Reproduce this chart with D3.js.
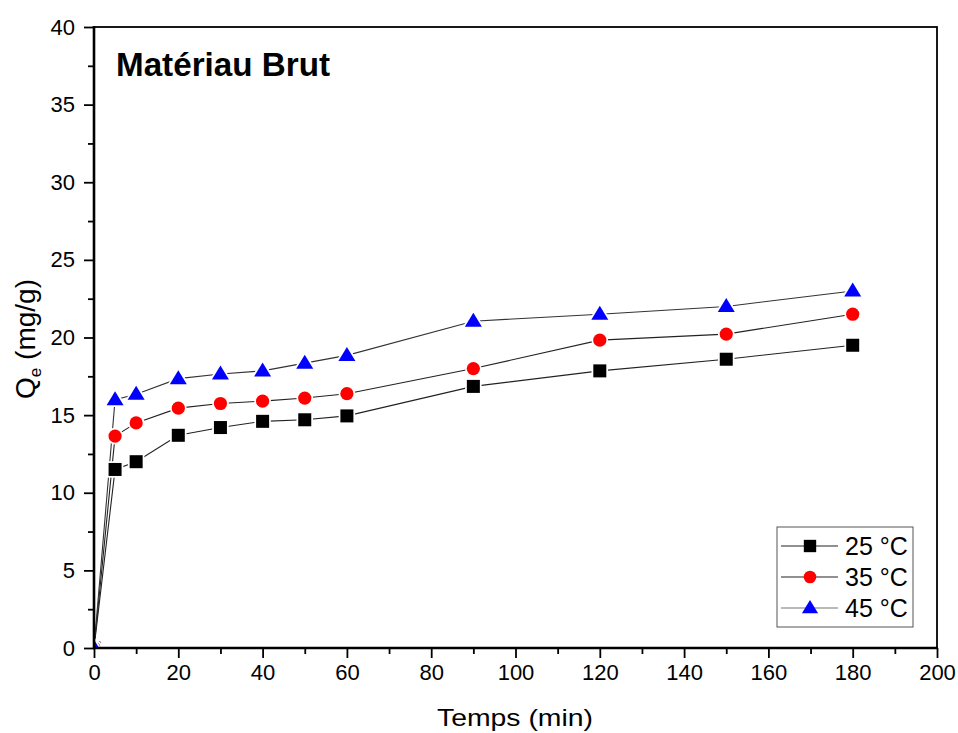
<!DOCTYPE html>
<html><head><meta charset="utf-8">
<script src="https://cdn.jsdelivr.net/npm/d3@7"></script>
<style>body{margin:0;background:#fff}svg{display:block;font-family:"Liberation Sans",Arial,sans-serif}</style>
</head><body><svg id="c" width="958" height="733"></svg>
<script>
const times = [0, 5, 10, 20, 30, 40, 50, 60, 90, 120, 150, 180];
const q25 = [0, 11.5, 12.0, 13.7, 14.2, 14.6, 14.7, 14.95, 16.85, 17.85, 18.6, 19.5];
const q35 = [0, 13.65, 14.5, 15.45, 15.75, 15.9, 16.1, 16.38, 18.0, 19.83, 20.22, 21.5];
const q45 = [0, 16.0, 16.35, 17.35, 17.65, 17.85, 18.35, 18.85, 21.05, 21.5, 22.0, 23.0];
const seriesNames = ["25 °C", "35 °C", "45 °C"];
const xTicks = [0, 20, 40, 60, 80, 100, 120, 140, 160, 180, 200];
const yTicks = [0, 5, 10, 15, 20, 25, 30, 35, 40];
const title = "Matériau Brut";

const svg = d3.select("#c");
const L = 94, R = 937, T = 27, B = 648;
const x = d3.scaleLinear().domain([0, 200]).range([L, R]);
const y = d3.scaleLinear().domain([0, 40]).range([B, T]);

const series = [
  {name: seriesNames[0], vals: q25, color: "#000", shape: "square", line: "#222"},
  {name: seriesNames[1], vals: q35, color: "#ff0000", shape: "circle", line: "#222"},
  {name: seriesNames[2], vals: q45, color: "#0000ff", shape: "triangle", line: "#333"}
];

const xAxis = d3.axisBottom(x).tickValues(xTicks).tickSize(10).tickPadding(6).tickFormat(d3.format("d"));
const yAxis = d3.axisLeft(y).tickValues(yTicks).tickSize(10).tickPadding(9).tickFormat(d3.format("d"));
const xMinor = d3.axisBottom(x).tickValues(d3.range(10, 200, 20)).tickSize(6).tickFormat("");
const yMinor = d3.axisLeft(y).tickValues(d3.range(2.5, 40, 5)).tickSize(6).tickFormat("");

function styleAxis(g) {
  g.select(".domain").remove();
  g.selectAll("line").attr("stroke", "#000").attr("stroke-width", 1.8);
  g.selectAll("text").attr("font-size", 22).attr("fill", "#000").attr("font-family", '"Liberation Sans",Arial,sans-serif');
}
svg.append("g").attr("transform", `translate(0,${B})`).call(xAxis).call(styleAxis);
svg.append("g").attr("transform", `translate(0,${B})`).call(xMinor).call(styleAxis);
svg.append("g").attr("transform", `translate(${L},0)`).call(yAxis).call(styleAxis);
svg.append("g").attr("transform", `translate(${L},0)`).call(yMinor).call(styleAxis);

svg.append("clipPath").attr("id", "clip").append("rect").attr("x", L).attr("y", T).attr("width", R - L).attr("height", B - T);

const plot = svg.append("g").attr("clip-path", "url(#clip)");
const lineGen = d3.line().x((d, i) => x(times[i])).y(d => y(d));

series.forEach(s => {
  plot.append("path").attr("d", lineGen(s.vals)).attr("fill", "none").attr("stroke", s.line).attr("stroke-width", 1.1);
});

function drawMarker(g, shape, cx, cy, color, halo, k) {
  let el;
  if (shape === "square") {
    const sz = 13 * k;
    el = g.append("rect").attr("x", cx - sz / 2).attr("y", cy - sz / 2).attr("width", sz).attr("height", sz);
  } else if (shape === "circle") {
    el = g.append("circle").attr("cx", cx).attr("cy", cy).attr("r", 6.6 * k);
  } else {
    const h = 14 * k, w = 17 * k;
    el = g.append("path").attr("d", `M${cx},${cy - h * 0.6}L${cx + w / 2},${cy + h * 0.4}L${cx - w / 2},${cy + h * 0.4}Z`);
  }
  el.attr("fill", color);
  if (halo) el.attr("stroke", "#fff").attr("stroke-width", 3.5).attr("paint-order", "stroke");
  return el;
}

series.forEach(s => {
  s.vals.forEach((v, i) => {
    drawMarker(plot, s.shape, x(times[i]), y(v), s.color, true, 1);
  });
});

// frame
svg.append("rect").attr("x", L).attr("y", T).attr("width", R - L).attr("height", B - T)
  .attr("fill", "none").attr("stroke", "#000").attr("stroke-width", 1.8);
svg.append("line").attr("x1", L - 1).attr("x2", R + 1).attr("y1", B).attr("y2", B).attr("stroke", "#000").attr("stroke-width", 2.6);
svg.append("line").attr("x1", L).attr("x2", L).attr("y1", T - 1).attr("y2", B + 1).attr("stroke", "#000").attr("stroke-width", 2.6);

// title
svg.append("text").attr("x", 116).attr("y", 76).attr("font-size", 33).attr("font-weight", "bold").attr("fill", "#000")
  .attr("textLength", 214).attr("lengthAdjust", "spacingAndGlyphs").text(title);

// axis labels
svg.append("text").attr("x", 437).attr("y", 726).attr("font-size", 24).attr("fill", "#000")
  .attr("textLength", 156).attr("lengthAdjust", "spacingAndGlyphs").text("Temps (min)");
const yl = svg.append("text").attr("transform", "translate(35,339) rotate(-90)").attr("text-anchor", "middle").attr("font-size", 28).attr("fill", "#000");
yl.append("tspan").text("Q");
yl.append("tspan").attr("font-size", 17).attr("dy", 6).text("e");
yl.append("tspan").attr("dy", -6).text(" (mg/g)");

// legend
const lg = svg.append("g");
lg.append("rect").attr("x", 777).attr("y", 527).attr("width", 136).attr("height", 100).attr("fill", "#fff").attr("stroke", "#555").attr("stroke-width", 1);
series.forEach((s, i) => {
  const cy = 546 + i * 31;
  lg.append("line").attr("x1", 781).attr("x2", 838).attr("y1", cy).attr("y2", cy).attr("stroke", i === 2 ? "#777" : "#222").attr("stroke-width", 1.1);
  drawMarker(lg, s.shape, 810, cy, s.color, false, 0.95);
  lg.append("text").attr("x", 845).attr("y", cy + 9).attr("font-size", 25).attr("fill", "#000").text(s.name);
});
</script></body></html>
